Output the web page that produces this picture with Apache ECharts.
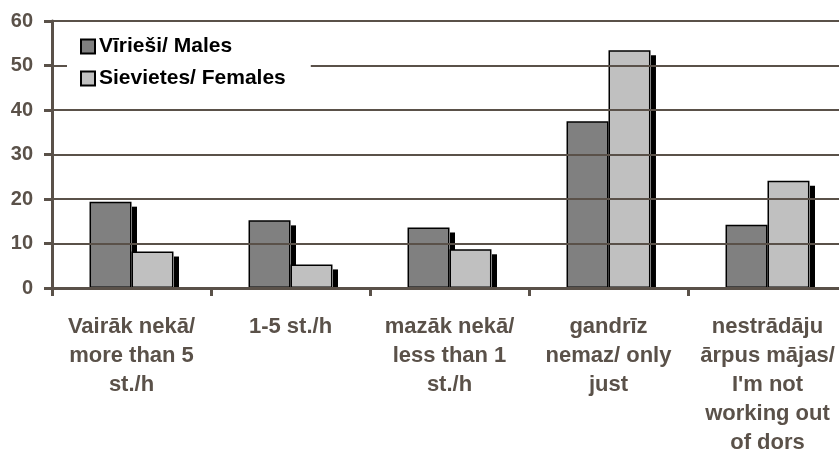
<!DOCTYPE html>
<html>
<head>
<meta charset="utf-8">
<script src="https://cdn.jsdelivr.net/npm/echarts@6/dist/echarts.min.js"></script>
<style>html,body{margin:0;padding:0;background:#fff;}#c{width:839px;height:449px;}</style>
</head>
<body>
<div id="c"></div>
<script>
const categories = [
  'Vairāk nekā/\nmore than 5\nst./h',
  '1-5 st./h',
  'mazāk nekā/\nless than 1\nst./h',
  'gandrīz\nnemaz/ only\njust',
  'nestrādāju\nārpus mājas/\nI\'m not\nworking out\nof dors'
];
const males = [19.4, 15.2, 13.6, 37.5, 14.2];
const females = [8.2, 5.3, 8.7, 53.4, 24.1];
const yTicks = [0, 10, 20, 30, 40, 50, 60];

const FONT = '"Liberation Sans", Arial, sans-serif';
const AX = '#5a5149';
const BAR_PCT = 0.264;

function shadowSeries(data, side) {
  return {
    type: 'custom',
    silent: true,
    legendHoverLink: false,
    data: data.map((v, i) => [i, v]),
    renderItem: function (params, api) {
      const idx = api.value(0);
      const top = api.coord([idx, api.value(1)]);
      const base = api.coord([idx, 0]);
      const band = api.size([1, 0])[0];
      const bw = band * BAR_PCT;
      const right = side === 'left' ? top[0] : top[0] + bw;
      return {
        type: 'rect',
        shape: { x: right + 0.5, y: top[1] + 5, width: 5, height: base[1] - top[1] - 5 },
        style: { fill: '#000' }
      };
    }
  };
}

const chart = echarts.init(document.getElementById('c'));
chart.setOption({
  animation: false,
  backgroundColor: '#fff',
  grid: { left: 52, top: 21, bottom: 161, right: -8, containLabel: false, outerBoundsMode: 'none' },
  legend: {
    z: 20,
    orient: 'vertical',
    left: 67,
    top: 26,
    padding: [10, 25, 10, 13],
    backgroundColor: '#fff',
    itemWidth: 14,
    itemHeight: 14,
    itemGap: 11,
    icon: 'rect',
    data: ['Vīrieši/ Males', 'Sievietes/ Females'],
    textStyle: { fontFamily: FONT, fontWeight: 'bold', fontSize: 21, color: '#000', padding: [0, 0, 0, -1] }
  },
  xAxis: {
    type: 'category',
    data: categories,
    axisLine: { lineStyle: { color: AX, width: 3 } },
    axisTick: { show: true, length: 8, lineStyle: { color: AX, width: 3 } },
    axisLabel: {
      interval: 0, margin: 24,
      fontFamily: FONT, fontWeight: 'bold', fontSize: 22, lineHeight: 29, color: AX, align: 'center'
    },
    splitLine: { show: false }
  },
  yAxis: {
    type: 'value',
    position: 'left',
    z: 10,
    min: 0, max: 60, interval: 10,
    axisLine: { show: true, onZero: false, lineStyle: { color: AX, width: 3 } },
    axisTick: { show: true, length: 8, lineStyle: { color: AX, width: 3 } },
    axisLabel: {
      margin: 19, fontFamily: FONT, fontWeight: 'bold', fontSize: 20, color: AX,
      formatter: v => yTicks.includes(v) ? String(v) : ''
    },
    splitLine: { lineStyle: { color: AX, width: 2 } }
  },
  series: [
    {
      name: 'Vīrieši/ Males', type: 'bar', data: males,
      barWidth: (BAR_PCT * 100) + '%', barGap: '0%',
      itemStyle: { color: '#808080', borderColor: '#000', borderWidth: 1.5 }
    },
    shadowSeries(males, 'left'),
    {
      name: 'Sievietes/ Females', type: 'bar', data: females,
      barWidth: (BAR_PCT * 100) + '%', barGap: '0%',
      itemStyle: { color: '#c0c0c0', borderColor: '#000', borderWidth: 1.5 }
    },
    shadowSeries(females, 'right')
  ]
});
</script>
</body>
</html>
